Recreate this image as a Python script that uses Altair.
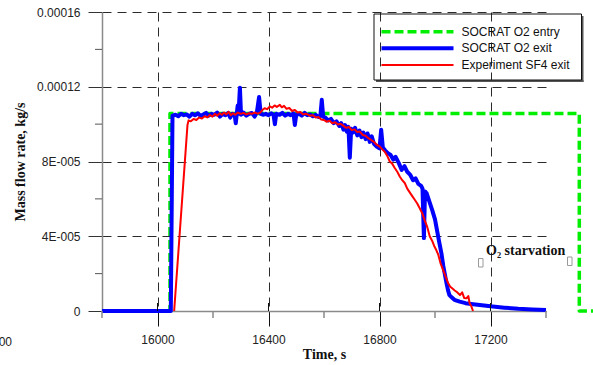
import altair as alt
import pandas as pd

# ---- axis ticks and labels -------------------------------------------------
x_major = [16000, 16400, 16800, 17200]
x_minor = [15800, 16200, 16600, 17000, 17400]
y_major = [0, 4e-5, 8e-5, 1.2e-4, 1.6e-4]
y_major_labels = ["0", "4E-005", "8E-005", "0.00012", "0.00016"]
y_minor = [2e-5, 6e-5, 1e-4, 1.4e-4]

# ---- series (time in s, flow in units of 1e-5 kg/s) -------------------------
series_names = ["SOCRAT O2 entry", "SOCRAT O2 exit", "Experiment SF4 exit"]
series_colors = ["#00ee00", "#0000ff", "#ff0000"]

entry_t = [15800, 16045, 16045, 17520, 17520, 17640]
entry_v = [0.0, 0.0, 10.57, 10.57, 0.0, 0.0]

exit_t = [15800, 16048, 16054, 16065, 16075, 16085, 16095, 16105, 16115, 16125,
          16135, 16145, 16155, 16165, 16175, 16185, 16195, 16205, 16215, 16225,
          16235, 16245, 16255, 16262, 16270, 16278, 16282, 16286, 16289, 16292,
          16297, 16301, 16310, 16320, 16330, 16340, 16350, 16358, 16366, 16372,
          16380, 16390, 16400, 16410, 16418, 16423, 16428, 16440, 16450, 16460,
          16470, 16480, 16490, 16495, 16500, 16510, 16520, 16530, 16540, 16550,
          16560, 16570, 16580, 16587, 16592, 16597, 16605, 16615, 16625, 16635,
          16645, 16655, 16662, 16670, 16676, 16682, 16688, 16693, 16698, 16705,
          16712, 16720, 16728, 16735, 16742, 16750, 16757, 16765, 16772, 16780,
          16790, 16800, 16806, 16812, 16820, 16830, 16840, 16850, 16858, 16870,
          16880, 16890, 16900, 16910, 16921, 16930, 16940, 16950, 16955, 16960,
          16964, 16970, 16981, 16990, 17000, 17005, 17015, 17023, 17030, 17035,
          17042, 17047, 17052, 17059, 17070, 17089, 17110, 17130, 17161, 17200,
          17250, 17300, 17350, 17400]
exit_v = [0.0, 0.0, 10.45, 10.50, 10.42, 10.55, 10.48, 10.52, 10.40, 10.55,
          10.47, 10.58, 10.44, 10.52, 10.60, 10.45, 10.55, 10.50, 10.62, 10.40,
          10.55, 10.48, 10.60, 10.35, 10.55, 10.50, 10.05, 10.60, 11.00, 10.55,
          11.95, 10.50, 10.62, 10.45, 10.55, 10.60, 10.40, 10.62, 11.45, 10.55,
          10.50, 10.55, 10.48, 10.58, 10.50, 10.00, 10.55, 10.50, 10.60, 10.45,
          10.55, 10.48, 10.58, 9.95, 10.50, 10.55, 10.45, 10.60, 10.48, 10.52,
          10.42, 10.50, 10.38, 10.45, 11.30, 10.40, 10.35, 10.20, 10.28, 10.05,
          10.15, 9.90, 10.05, 9.70, 9.95, 9.60, 9.85, 8.20, 9.75, 9.55,
          9.80, 9.40, 9.65, 9.30, 9.55, 9.20, 9.50, 9.05, 9.35, 8.95,
          8.80, 8.70, 9.70, 8.75, 8.60, 8.45, 8.35, 8.10, 8.25, 7.90,
          7.55, 7.75, 7.45, 7.30, 7.00, 7.10, 6.80, 6.70, 6.55, 3.90,
          6.40, 6.30, 5.80, 5.40, 4.90, 4.50, 3.70, 3.10, 2.40, 2.00,
          1.45, 1.10, 0.85, 0.75, 0.60, 0.50, 0.42, 0.38, 0.32, 0.25,
          0.18, 0.12, 0.08, 0.05]

exp_t = [16060, 16108, 16112, 16120, 16130, 16140, 16150, 16160, 16170, 16180,
         16189, 16198, 16207, 16215, 16224, 16232, 16240, 16248, 16256, 16264,
         16272, 16280, 16290, 16300, 16310, 16320, 16330, 16340, 16350, 16360,
         16369, 16378, 16386, 16395, 16405, 16413, 16422, 16430, 16441, 16448,
         16456, 16465, 16475, 16485, 16495, 16505, 16515, 16525, 16535, 16549,
         16560, 16570, 16580, 16590, 16600, 16609, 16620, 16630, 16640, 16650,
         16660, 16669, 16680, 16690, 16700, 16710, 16720, 16729, 16740, 16750,
         16760, 16770, 16780, 16790, 16801, 16810, 16820, 16828, 16837, 16845,
         16855, 16864, 16873, 16882, 16891, 16900, 16909, 16918, 16927, 16936,
         16945, 16955, 16963, 16972, 16981, 16990, 16998, 17005, 17012, 17020,
         17029, 17038, 17047, 17055, 17063, 17071, 17080, 17090, 17098, 17105,
         17113, 17120, 17125, 17131, 17137]
exp_v = [0.0, 9.95, 10.20, 10.15, 10.28, 10.22, 10.35, 10.30, 10.42, 10.36,
         10.49, 10.40, 10.55, 10.45, 10.58, 10.50, 10.62, 10.52, 10.66, 10.48,
         10.58, 10.50, 10.62, 10.55, 10.60, 10.52, 10.58, 10.55, 10.62, 10.56,
         10.60, 10.75, 10.85, 10.80, 10.95, 10.88, 11.00, 10.92, 11.03, 10.90,
         10.98, 10.82, 10.86, 10.70, 10.76, 10.62, 10.65, 10.52, 10.56, 10.45,
         10.48, 10.35, 10.38, 10.25, 10.22, 10.13, 10.18, 10.05, 10.10, 9.98,
         10.02, 9.92, 9.80, 9.85, 9.68, 9.72, 9.58, 9.60, 9.42, 9.38,
         9.25, 9.15, 9.05, 8.90, 8.80, 8.65, 8.50, 8.30, 8.00, 7.90,
         7.65, 7.45, 7.20, 7.00, 6.85, 6.55, 6.35, 6.15, 5.95, 5.75,
         5.50, 5.20, 4.85, 4.50, 4.00, 3.75, 3.45, 3.25, 3.00, 2.55,
         2.20, 1.85, 1.50, 1.30, 1.20, 1.10, 1.00, 0.85, 1.00, 0.70,
         0.68, 0.80, 0.40, 0.25, 0.00]

UNIT = 1e-5


def frame(ts, vs):
    return pd.DataFrame({"i": range(len(ts)), "t": ts, "v": [v * UNIT for v in vs]})


entry_df = frame(entry_t, entry_v)
exit_df = frame(exit_t, exit_v)
exp_df = frame(exp_t, exp_v)

W, H = 444, 299
SANS = "Liberation Sans"
SERIF = "Liberation Serif"
GRID = "#2a2a2a"
AXIS_GRAY = "#8a8a8a"

x_scale = alt.Scale(domain=[15800, 17400], nice=False, zero=False)
y_scale = alt.Scale(domain=[0, 0.00016], nice=False, zero=False)

label_expr = " : ".join(
    f"abs(datum.value - {v}) < 1e-9 ? '{s}'" for v, s in zip(y_major, y_major_labels)
) + " : ''"

x_axis = alt.Axis(values=x_major, format="d", title="Time, s", grid=True,
                  gridDash=[9, 6], gridColor=GRID, gridWidth=1,
                  tickSize=15, tickColor="#111111", tickWidth=1,
                  labelPadding=8, titlePadding=2, domainColor=AXIS_GRAY,
                  domainWidth=1.5, labelFlush=False, labelOverlap=False)
y_axis = alt.Axis(values=y_major, labelExpr=label_expr, title="Mass flow rate, kg/s",
                  grid=True, gridDash=[9, 6], gridColor=GRID, gridWidth=1,
                  tickSize=14, tickColor="#333333", tickWidth=1,
                  labelPadding=8, titlePadding=9, domainColor=AXIS_GRAY,
                  domainWidth=1.5, labelFlush=False, labelOverlap=False)

X = alt.X("t:Q", scale=x_scale, axis=x_axis)
Y = alt.Y("v:Q", scale=y_scale, axis=y_axis)


def series_line(df, color, width, dash=None):
    kw = dict(color=color, strokeWidth=width, strokeJoin="round", clip=False)
    if dash:
        kw["strokeDash"] = dash
        kw["strokeCap"] = "butt"
    return alt.Chart(df).mark_line(**kw).encode(x=X, y=Y, order="i:Q")


entry_line = series_line(entry_df, series_colors[0], 3.5, dash=[9, 4])
exit_line = series_line(exit_df, series_colors[1], 4)
exp_line = series_line(exp_df, series_colors[2], 2)

# inner halves of the major x ticks and the short minor ticks
x_major_in = alt.Chart(pd.DataFrame({"t": x_major})).mark_rule(color="#111111", strokeWidth=1).encode(
    x=X, y=alt.value(H - 8), y2=alt.value(H))
x_minor_ticks = alt.Chart(pd.DataFrame({"t": x_minor})).mark_rule(color=AXIS_GRAY, strokeWidth=1.5).encode(
    x=X, y=alt.value(H), y2=alt.value(H + 7))
y_minor_ticks = alt.Chart(pd.DataFrame({"v": y_minor})).mark_rule(color="#555555", strokeWidth=1).encode(
    y=Y, x=alt.value(-7), x2=alt.value(0))

one = pd.DataFrame({"k": [0]})

# legend box with a drop shadow on the right and bottom edges
LX0, LX1, LY0, LY1 = 272, 479.5, 2, 68
legend_layers = [
    alt.Chart(one).mark_rule(color="#555555", strokeWidth=2).encode(
        x=alt.value(LX1 + 1), y=alt.value(LY0 + 2), y2=alt.value(LY1 + 2)),
    alt.Chart(one).mark_rule(color="#555555", strokeWidth=2).encode(
        x=alt.value(LX0 + 2), x2=alt.value(LX1 + 2), y=alt.value(LY1 + 1)),
    alt.Chart(one).mark_rect(fillOpacity=0, stroke="#111111", strokeWidth=1).encode(
        x=alt.value(LX0), x2=alt.value(LX1), y=alt.value(LY0), y2=alt.value(LY1)),
]
row_y = [19.7, 36.3, 53]
sym_w = [3.5, 4, 2]
sym_dash = [[9, 4], None, None]
for name, color, ry, sw, sd in zip(series_names, series_colors, row_y, sym_w, sym_dash):
    kw = dict(color=color, strokeWidth=sw)
    if sd:
        kw["strokeDash"] = sd
    legend_layers.append(alt.Chart(one).mark_rule(**kw).encode(
        x=alt.value(279.5), x2=alt.value(351.5), y=alt.value(ry)))
    legend_layers.append(alt.Chart(one).mark_text(
        align="left", baseline="middle", font=SANS, fontSize=12, color="#111111").encode(
        x=alt.value(359.5), y=alt.value(ry), text=alt.value(name)))

starvation = alt.Chart(one).mark_text(
    align="left", baseline="alphabetic", font=SERIF, fontSize=14, fontWeight="bold",
    color="#111111").encode(x=alt.value(384), y=alt.value(242.5), text=alt.value("O₂ starvation"))

# two small placeholder boxes flanking the annotation
marker_boxes = [
    alt.Chart(one).mark_rect(fillOpacity=0, stroke="#9a9a9a", strokeWidth=1).encode(
        x=alt.value(bx), x2=alt.value(bx + 4.5), y=alt.value(by), y2=alt.value(by + 8.5))
    for bx, by in [(376.5, 246.5), (465.5, 245)]
]

stray_label = alt.Chart(one).mark_text(
    align="right", baseline="middle", font=SANS, fontSize=12, color="#222222").encode(
    x=alt.value(-90), y=alt.value(330), text=alt.value("00"))

chart = alt.layer(
    entry_line, exit_line, exp_line, x_major_in, x_minor_ticks, y_minor_ticks,
    *legend_layers, starvation, *marker_boxes, stray_label,
).properties(
    width=W, height=H,
    autosize=alt.AutoSizeParams(type="none"),
    padding={"left": 102, "top": 12, "right": 47, "bottom": 54},
).configure_view(stroke=None).configure_axis(
    labelFont=SANS, labelFontSize=12, labelColor="#222222",
    titleFont=SERIF, titleFontSize=14, titleFontWeight="bold", titleColor="#111111",
)

chart.save("out.html", embed_options={"renderer": "svg", "actions": False})
